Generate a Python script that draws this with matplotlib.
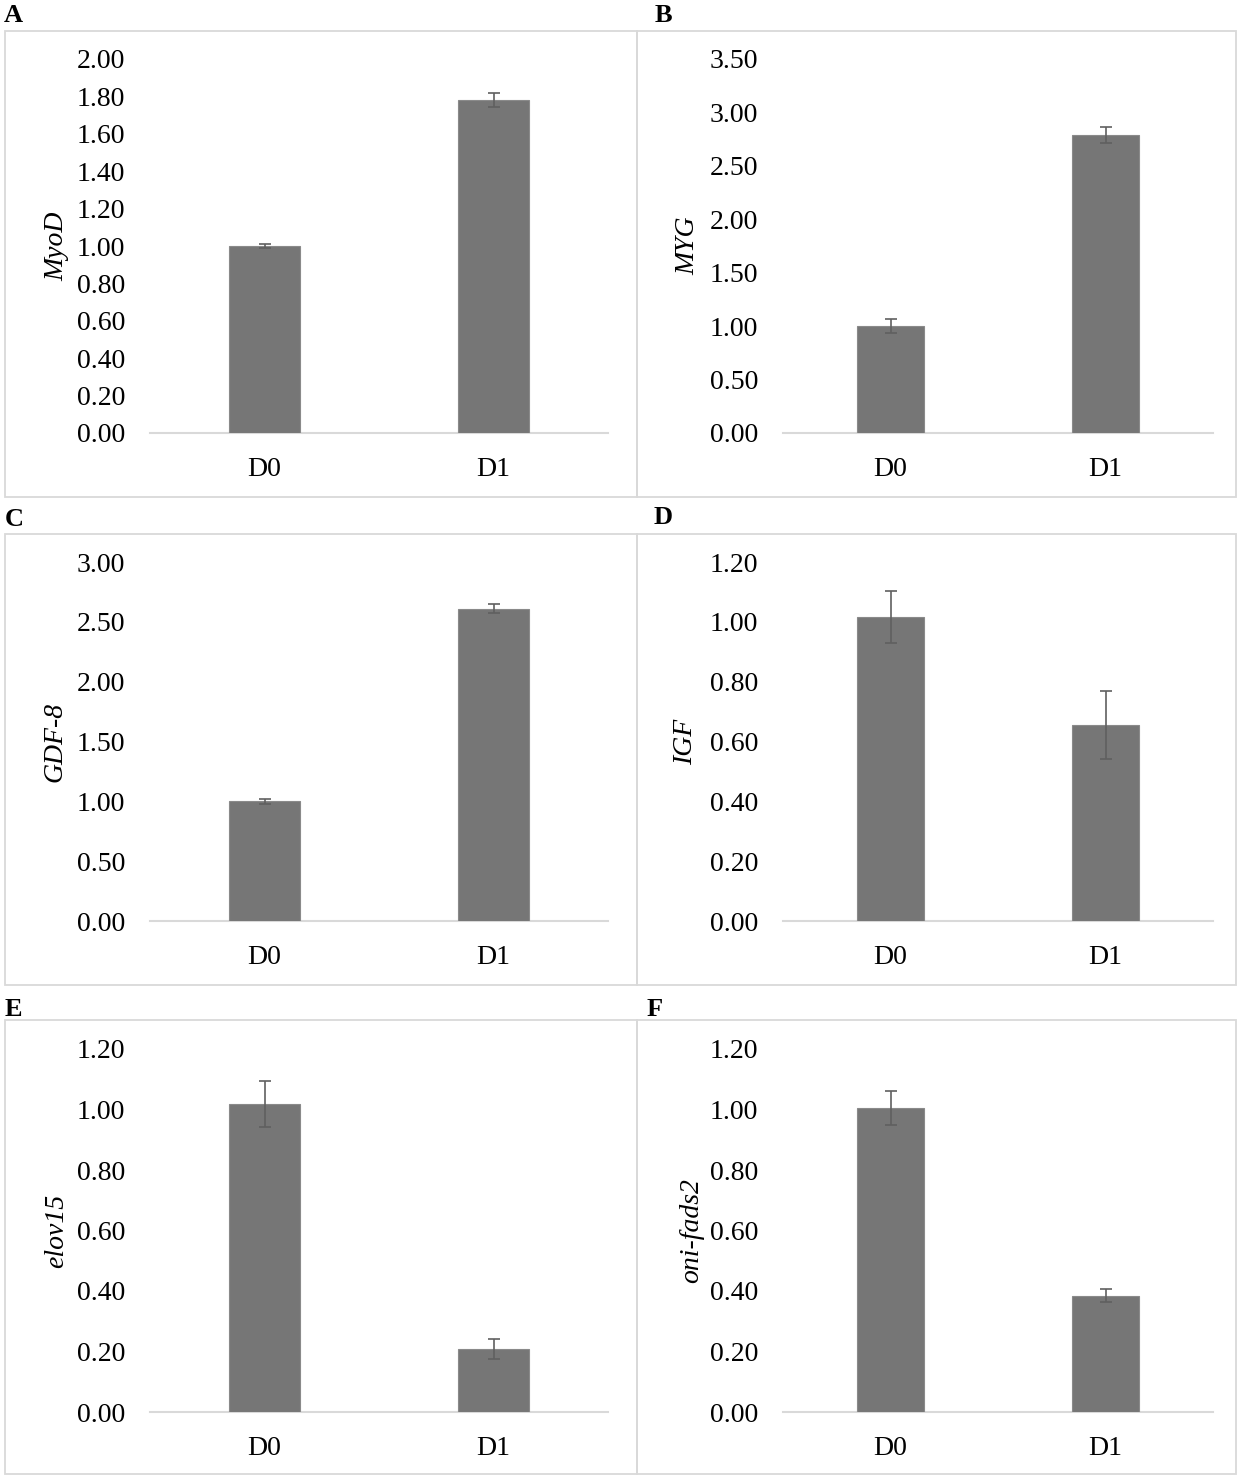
import numpy as np
import matplotlib
matplotlib.use('Agg')
import matplotlib.pyplot as plt
from matplotlib.patches import Rectangle

plt.rcParams['font.family'] = ['Liberation Serif', 'DejaVu Serif']

# data
groups = ['D0', 'D1']
genes = ['MyoD', 'MYG', 'GDF-8', 'IGF', 'elov15', 'oni-fads2']
letters = ['A', 'B', 'C', 'D', 'E', 'F']

myod_mean = [1.00, 1.78]
myod_err = [0.013, 0.038]
myg_mean = [1.00, 2.79]
myg_err = [0.065, 0.075]
gdf8_mean = [1.00, 2.61]
gdf8_err = [0.02, 0.035]
igf_mean = [1.016, 0.656]
igf_err = [0.086, 0.113]
elov_mean = [1.018, 0.208]
elov_err = [0.075, 0.033]
fads_mean = [1.006, 0.384]
fads_err = [0.056, 0.021]

y_max = [2.0, 3.5, 3.0, 1.2, 1.2, 1.2]
y_step = [0.2, 0.5, 0.5, 0.2, 0.2, 0.2]

means = [myod_mean, myg_mean, gdf8_mean, igf_mean, elov_mean, fads_mean]
errs = [myod_err, myg_err, gdf8_err, igf_err, elov_err, fads_err]

W, H = 1248, 1478
fig = plt.figure(figsize=(W / 100, H / 100), dpi=100)

# layout in pixels
col_x = [(150, 608), (783, 1213)]
row_y = [(433, 59), (921, 562), (1412, 1049)]
box_x = [(5, 637), (637, 1236)]
box_y = [(31, 497), (534, 985), (1020, 1474)]
letter_xy = [(13, 15), (663, 15), (14, 519), (663, 518), (13, 1009), (655, 1009)]
ylab_x = [57, 688, 55, 686, 57, 692]

def fx(px):
    return px / W

def fy(py):
    return 1 - py / H

bar_col = '#767676'
grid_col = '#d9d9d9'
err_col = '#606060'
fs = 20

for i in range(6):
    r, c = divmod(i, 2)
    # panel border
    bx0, bx1 = box_x[c]
    by0, by1 = box_y[r]
    fig.patches.append(Rectangle((fx(bx0), fy(by1)), fx(bx1) - fx(bx0), fy(by0) - fy(by1),
                                 transform=fig.transFigure, fill=False,
                                 edgecolor=grid_col, linewidth=1.3))
    fig.text(fx(letter_xy[i][0]), fy(letter_xy[i][1]), letters[i], fontsize=19,
             fontweight='bold', ha='center', va='center')

    x0, x1 = col_x[c]
    ybot, ytop = row_y[r]
    ax = fig.add_axes([fx(x0), fy(ybot), fx(x1) - fx(x0), fy(ytop) - fy(ybot)])
    x = np.arange(len(groups))
    ax.bar(x, means[i], width=0.31, color=bar_col, edgecolor='#8a8a8a', linewidth=0.8, zorder=2)
    ax.errorbar(x, means[i], yerr=errs[i], fmt='none', ecolor=err_col, elinewidth=1.2,
                capsize=4, capthick=1.2, zorder=3)
    ax.set_xlim(-0.5, 1.5)
    ax.set_ylim(0, y_max[i])
    ticks = np.arange(0, y_max[i] + y_step[i] / 2, y_step[i])
    ax.set_yticks(ticks)
    ax.set_yticklabels(['%.2f' % t for t in ticks])
    ax.set_xticks(x)
    ax.set_xticklabels(groups)
    ax.tick_params(axis='y', length=0, pad=18, labelsize=fs)
    ax.tick_params(axis='x', length=0, pad=17, labelsize=fs)
    for s in ['top', 'right', 'left']:
        ax.spines[s].set_visible(False)
    ax.spines['bottom'].set_color(grid_col)
    ax.spines['bottom'].set_linewidth(1.5)
    ax.spines['bottom'].set_zorder(1)
    ax.set_ylabel(genes[i], fontsize=fs, fontstyle='italic')
    ax.yaxis.label.set_va('center')
    ax.yaxis.set_label_coords((ylab_x[i] - x0) / (x1 - x0), 0.5)

plt.savefig('out.png', dpi=100)
